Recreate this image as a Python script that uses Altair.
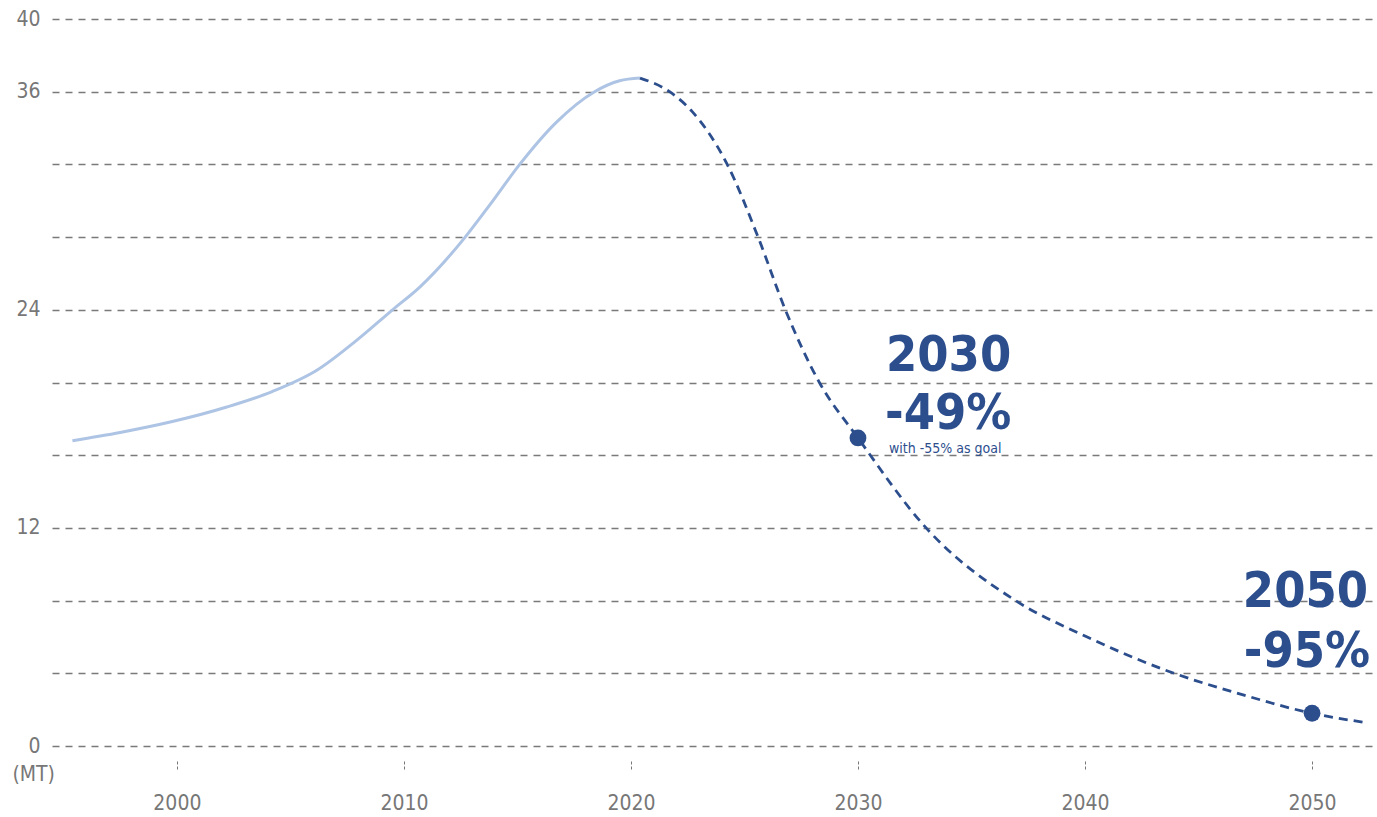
import altair as alt
import pandas as pd

# Emissions history (MT), smooth curve up to 2020
hist_year = [1995.4, 1997.5, 1999.8, 2002.2, 2004.2, 2006.2, 2007.9, 2009.5,
             2010.7, 2012.7, 2013.8, 2015.1, 2016.7, 2018.4, 2019.5, 2020.4]
hist_value = [16.8, 17.25, 17.85, 18.65, 19.5, 20.7, 22.3, 24.0,
              25.25, 28.0, 29.8, 32.0, 34.3, 36.0, 36.6, 36.75]

# Reduction pathway from 2020 onwards
proj_year = [2020.4, 2021.7, 2022.7, 2024.2, 2025.6, 2026.8, 2028.3, 2030.0,
             2033.0, 2036.9, 2040.0, 2043.7, 2047.0, 2050.0, 2052.3]
proj_value = [36.75, 36.0, 34.9, 32.1, 28.0, 24.0, 20.0, 16.95,
              12.0, 8.03, 6.05, 4.1, 2.8, 1.8, 1.3]

# Milestones
goal_year = [2030, 2050]
goal_value = [16.95, 1.8]
goal_head = ["2030", "2050"]
goal_cut = ["-49%", "-95%"]
goal_note = "with -55% as goal"

y_grid = list(range(0, 41, 4))
x_ticks = [2000, 2010, 2020, 2030, 2040, 2050]

FONT = "DejaVu Sans Condensed, Liberation Sans Narrow, Roboto, sans-serif"
DARK = "#2c4e8d"
LIGHT = "#aec4e4"
GREY = "#777777"

x_scale = alt.Scale(domain=[1994.5, 2052.86], nice=False, zero=False)
y_scale = alt.Scale(domain=[0, 40], nice=False)

x_axis = alt.Axis(values=x_ticks, format="d", title=None, domain=False, grid=False,
                  ticks=True, tickSize=8, tickDash=[3, 2], tickColor=GREY, tickWidth=1,
                  offset=15, labelPadding=23, labelFont=FONT, labelFontSize=21,
                  labelColor=GREY)
y_axis = alt.Axis(values=y_grid, title=None, domain=False, ticks=False, grid=True,
                  gridDash=[7, 6], gridColor="#7a7a7a", gridWidth=1.4,
                  labelExpr="(datum.value % 12 == 0 || datum.value == 40) ? datum.label : ''",
                  labelPadding=12, labelFont=FONT, labelFontSize=21, labelColor=GREY)

X = alt.X("year:Q", scale=x_scale, axis=x_axis)
Y = alt.Y("value:Q", scale=y_scale, axis=y_axis)

hist = pd.DataFrame({"year": hist_year, "value": hist_value})
proj = pd.DataFrame({"year": proj_year, "value": proj_value})
goals = pd.DataFrame({"year": goal_year, "value": goal_value,
                      "head": goal_head, "cut": goal_cut})

hist_line = alt.Chart(hist).mark_line(
    color=LIGHT, strokeWidth=3, interpolate="monotone"
).encode(x=X, y=Y)

proj_line = alt.Chart(proj).mark_line(
    color=DARK, strokeWidth=2.8, strokeDash=[9, 6], interpolate="monotone"
).encode(x=X, y=Y)

points = alt.Chart(goals).mark_point(
    filled=True, shape="circle", size=283, color=DARK, opacity=1
).encode(x=X, y=Y)

big = dict(font=FONT, fontSize=50, fontWeight="bold", color=DARK, baseline="alphabetic")

g2030 = goals[goals["year"] == 2030]
g2050 = goals[goals["year"] == 2050]

head_2030 = alt.Chart(g2030).mark_text(align="left", dx=28, dy=-67, **big).encode(
    x=X, y=Y, text="head:N")
cut_2030 = alt.Chart(g2030).mark_text(align="left", dx=27, dy=-9, **big).encode(
    x=X, y=Y, text="cut:N")
note_2030 = alt.Chart(g2030).mark_text(
    align="left", dx=31, dy=15, font=FONT, fontSize=14, color=DARK, baseline="alphabetic"
).encode(x=X, y=Y, text=alt.value(goal_note))

head_2050 = alt.Chart(g2050).mark_text(align="right", dx=56, dy=-106, **big).encode(
    x=X, y=Y, text="head:N")
cut_2050 = alt.Chart(g2050).mark_text(align="right", dx=58, dy=-46, **big).encode(
    x=X, y=Y, text="cut:N")

unit = alt.Chart(pd.DataFrame({"t": ["(MT)"]})).mark_text(
    align="right", baseline="middle", font=FONT, fontSize=21, color=GREY
).encode(x=alt.value(3), y=alt.value(756), text="t:N")

chart = alt.layer(
    hist_line, proj_line, points, head_2030, cut_2030, note_2030,
    head_2050, cut_2050, unit
).properties(
    width=1325, height=727,
    padding={"left": 52, "top": 19, "right": 0, "bottom": 71},
    autosize=alt.AutoSizeParams(type="none"),
    background="white",
).configure_view(stroke=None)

chart.save("out.html", embed_options={"renderer": "svg", "actions": False})
